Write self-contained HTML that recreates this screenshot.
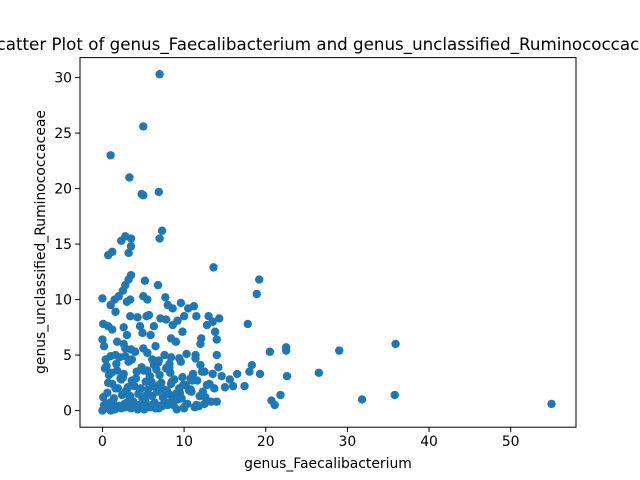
<!DOCTYPE html>
<html><head><meta charset="utf-8"><style>
html,body{margin:0;padding:0;background:#fff;overflow:hidden}
svg{display:block;font-family:"DejaVu Sans","Liberation Sans",sans-serif}
</style></head><body>
<svg id="chart" width="640" height="480" viewBox="0 0 640 480">
<text x="328" y="50" font-size="16.7" text-anchor="middle">Scatter Plot of genus_Faecalibacterium and genus_unclassified_Ruminococcaceae</text>
<g id="points"></g>
<rect x="80" y="57.6" width="496" height="369.6" fill="none" stroke="#000" stroke-width="1"/>
<g id="xticks"></g>
<g id="yticks"></g>
<text x="328" y="468" font-size="13.9" text-anchor="middle">genus_Faecalibacterium</text>
<text transform="translate(45,242) rotate(-90)" font-size="13.9" text-anchor="middle">genus_unclassified_Ruminococcaceae</text>
</svg>
<script>
const xTicks=[0,10,20,30,40,50];
const yTicks=[0,5,10,15,20,25,30];
const xVals=[7,5,1,3.3,4.8,5,6.9,7.3,7,3.5,3.5,2.8,2.3,1.2,0.7,3.2,13.6,3.5,3.2,2.8,5.2,6.8,19.2,18.9,2.5,2,0,1.5,3,3.4,5,5.5,7.7,9.6,10.5,11.2,8.6,8,1,1.6,3.4,4.3,5.4,5.7,7.1,7.8,9.2,10,11.5,13,14.3,13.5,12.8,8.6,6.3,4.6,0.1,0.7,1.2,2.6,13.8,9.8,17.8,12.1,12,14,9,8.4,4.9,5.9,3,1.8,0,0.2,2.8,3.5,5,5.5,6.5,35.9,29,22.5,22.5,20.5,14,11.4,10.3,7.6,8.4,9.4,0.4,1,1.6,2.1,2.8,3.6,6.1,6.8,8.2,9.6,12,14.2,18.3,19.3,18,26.5,22.6,16.5,15.6,14.6,13.5,12.5,11.1,10.8,35.8,31.8,55,21.8,20.7,21.1,17.4,16,15,14,12.5,11.5,10,10.3,0,0.2,0.5,1,1.5,2.3,3,4,5.1,6,6.9,7.7,8.5,9,
0.3,0.8,1.2,1.8,2.2,2.6,3.1,3.6,4.2,4.6,5.3,5.8,6.2,6.6,7.2,7.9,8.3,8.8,9.5,10.2,10.8,11.6,12.3,13.1,0.1,0.6,1.4,1.9,2.4,2.9,3.4,3.9,4.4,4.9,5.6,6.1,6.7,7.4,8.1,8.9,9.7,10.6,11.9,13.3,0.2,0.9,1.3,2,2.7,3.3,3.8,4.5,5.2,5.9,6.4,7.1,7.6,8.7,9.3,10.4,11.3,12.6,0.5,1.1,1.7,2.5,3.2,4.1,4.8,5.5,6.3,7,7.8,8.5,9.8,11,12.2,13.7,0.4,1.5,2.1,2.8,3.5,4.3,5,5.7,6.5,7.3,8,9.1,10,11.8,0.7,1.6,2.3,3,3.7,4.7,5.4,6,6.8,7.5,8.4,9.4,10.9,12.8,2.6,4,5.1,6.9,8.2,9.9,11.4];
const yVals=[30.3,25.6,23,21,19.5,19.4,19.7,16.2,15.5,15.5,14.8,15.7,15.3,14.3,14,14.2,12.9,12.2,11.8,11.3,11.7,11.3,11.8,10.5,10.8,10.3,10.1,10,9.8,10,10.3,10,10.2,9.7,9.2,9.4,9.2,9.5,9.5,8.9,8.5,8.4,8.5,8.6,8.3,8.2,8.1,8.5,8.5,8.5,8.3,8,7.7,7.7,7.6,7.6,7.8,7.6,7.3,7.5,7.1,7.1,7.8,6.5,6,6.4,6.2,6.5,7,6.8,6.8,6.2,6.4,5.8,5.6,5.5,5.6,5.2,5.8,6,5.4,5.7,5.4,5.3,5,5,5.1,5,4.8,4.7,4.6,4.9,5,4.8,4.9,4.6,4.6,4.3,4.2,4.4,4.1,3.9,4.1,3.3,3.5,3.4,3.1,3.3,2.8,3.1,3.3,3.5,3.3,2.9,1.4,1,0.6,1.4,0.9,0.5,2.2,2.2,2.1,0.8,0.6,0.5,0.2,0.6,0,0.2,0.6,0,0.3,0.2,0.7,0.4,0.1,0.5,0.2,0.6,0.9,1.5,
3.8,3.2,2.4,3.6,2.9,3.3,2.1,2.7,3.5,1.9,2.6,3.1,2.2,3.7,2.5,1.8,3.4,2.8,1.6,2.3,1.9,2.7,1.7,2.4,1.2,1.6,1.1,2,1.4,1.8,1.3,2.2,1.5,1.1,1.9,1.3,1.7,1.2,1.5,1.4,1.1,1.8,1.3,0.8,0.5,0.7,0.9,0.4,0.6,1,0.8,0.5,0.9,0.3,0.7,0.4,0.8,0.5,1,0.6,0.3,1.2,4,3.4,4.2,3,4.4,2.9,3.9,3.6,4.1,3.2,3.8,2.6,3,2.7,3.5,2,0.2,0.1,0.4,0.3,0.2,0.1,0.4,0.3,0.2,0.4,0.5,0.1,0.3,0.4,2.5,2,2.8,1.6,2.4,2,1.4,2.6,2.2,1.9,2.4,2,1.7,2.3,6,5.3,3.6,4.5,3.9,2.3,4.7];
const NS="http://www.w3.org/2000/svg";
const X0=80,X1=576,Y0=427.2,Y1=57.6;
const xMin=-2.75,xMax=58,yMin=-1.5,yMax=31.8;
function sx(v){return X0+(v-xMin)/(xMax-xMin)*(X1-X0);}
function sy(v){return Y0-(v-yMin)/(yMax-yMin)*(Y0-Y1);}
const pg=document.getElementById('points');
for(let i=0;i<xVals.length;i++){
  const c=document.createElementNS(NS,'circle');
  c.setAttribute('cx',sx(xVals[i]));c.setAttribute('cy',sy(yVals[i]));
  c.setAttribute('r',4.2);c.setAttribute('fill','#1f77b4');
  
  
  pg.appendChild(c);
}
const xg=document.getElementById('xticks');
xTicks.forEach(t=>{
  const x=sx(t);
  const l=document.createElementNS(NS,'line');
  l.setAttribute('x1',x);l.setAttribute('x2',x);l.setAttribute('y1',Y0);l.setAttribute('y2',Y0+4.9);l.setAttribute('stroke','#000');
  
  
  xg.appendChild(l);
  const tx=document.createElementNS(NS,'text');
  tx.setAttribute('x',x);tx.setAttribute('y',Y0+19);tx.setAttribute('font-size','13.9');tx.setAttribute('text-anchor','middle');
  tx.textContent=t;
  
  
  xg.appendChild(tx);
});
const yg=document.getElementById('yticks');
yTicks.forEach(t=>{
  const y=sy(t);
  const l=document.createElementNS(NS,'line');
  l.setAttribute('x1',X0-4.9);l.setAttribute('x2',X0);l.setAttribute('y1',y);l.setAttribute('y2',y);l.setAttribute('stroke','#000');
  
  
  yg.appendChild(l);
  const tx=document.createElementNS(NS,'text');
  tx.setAttribute('x',X0-8);tx.setAttribute('y',y+5);tx.setAttribute('font-size','13.9');tx.setAttribute('text-anchor','end');
  tx.textContent=t;
  
  
  yg.appendChild(tx);
});
</script>
</body></html>
